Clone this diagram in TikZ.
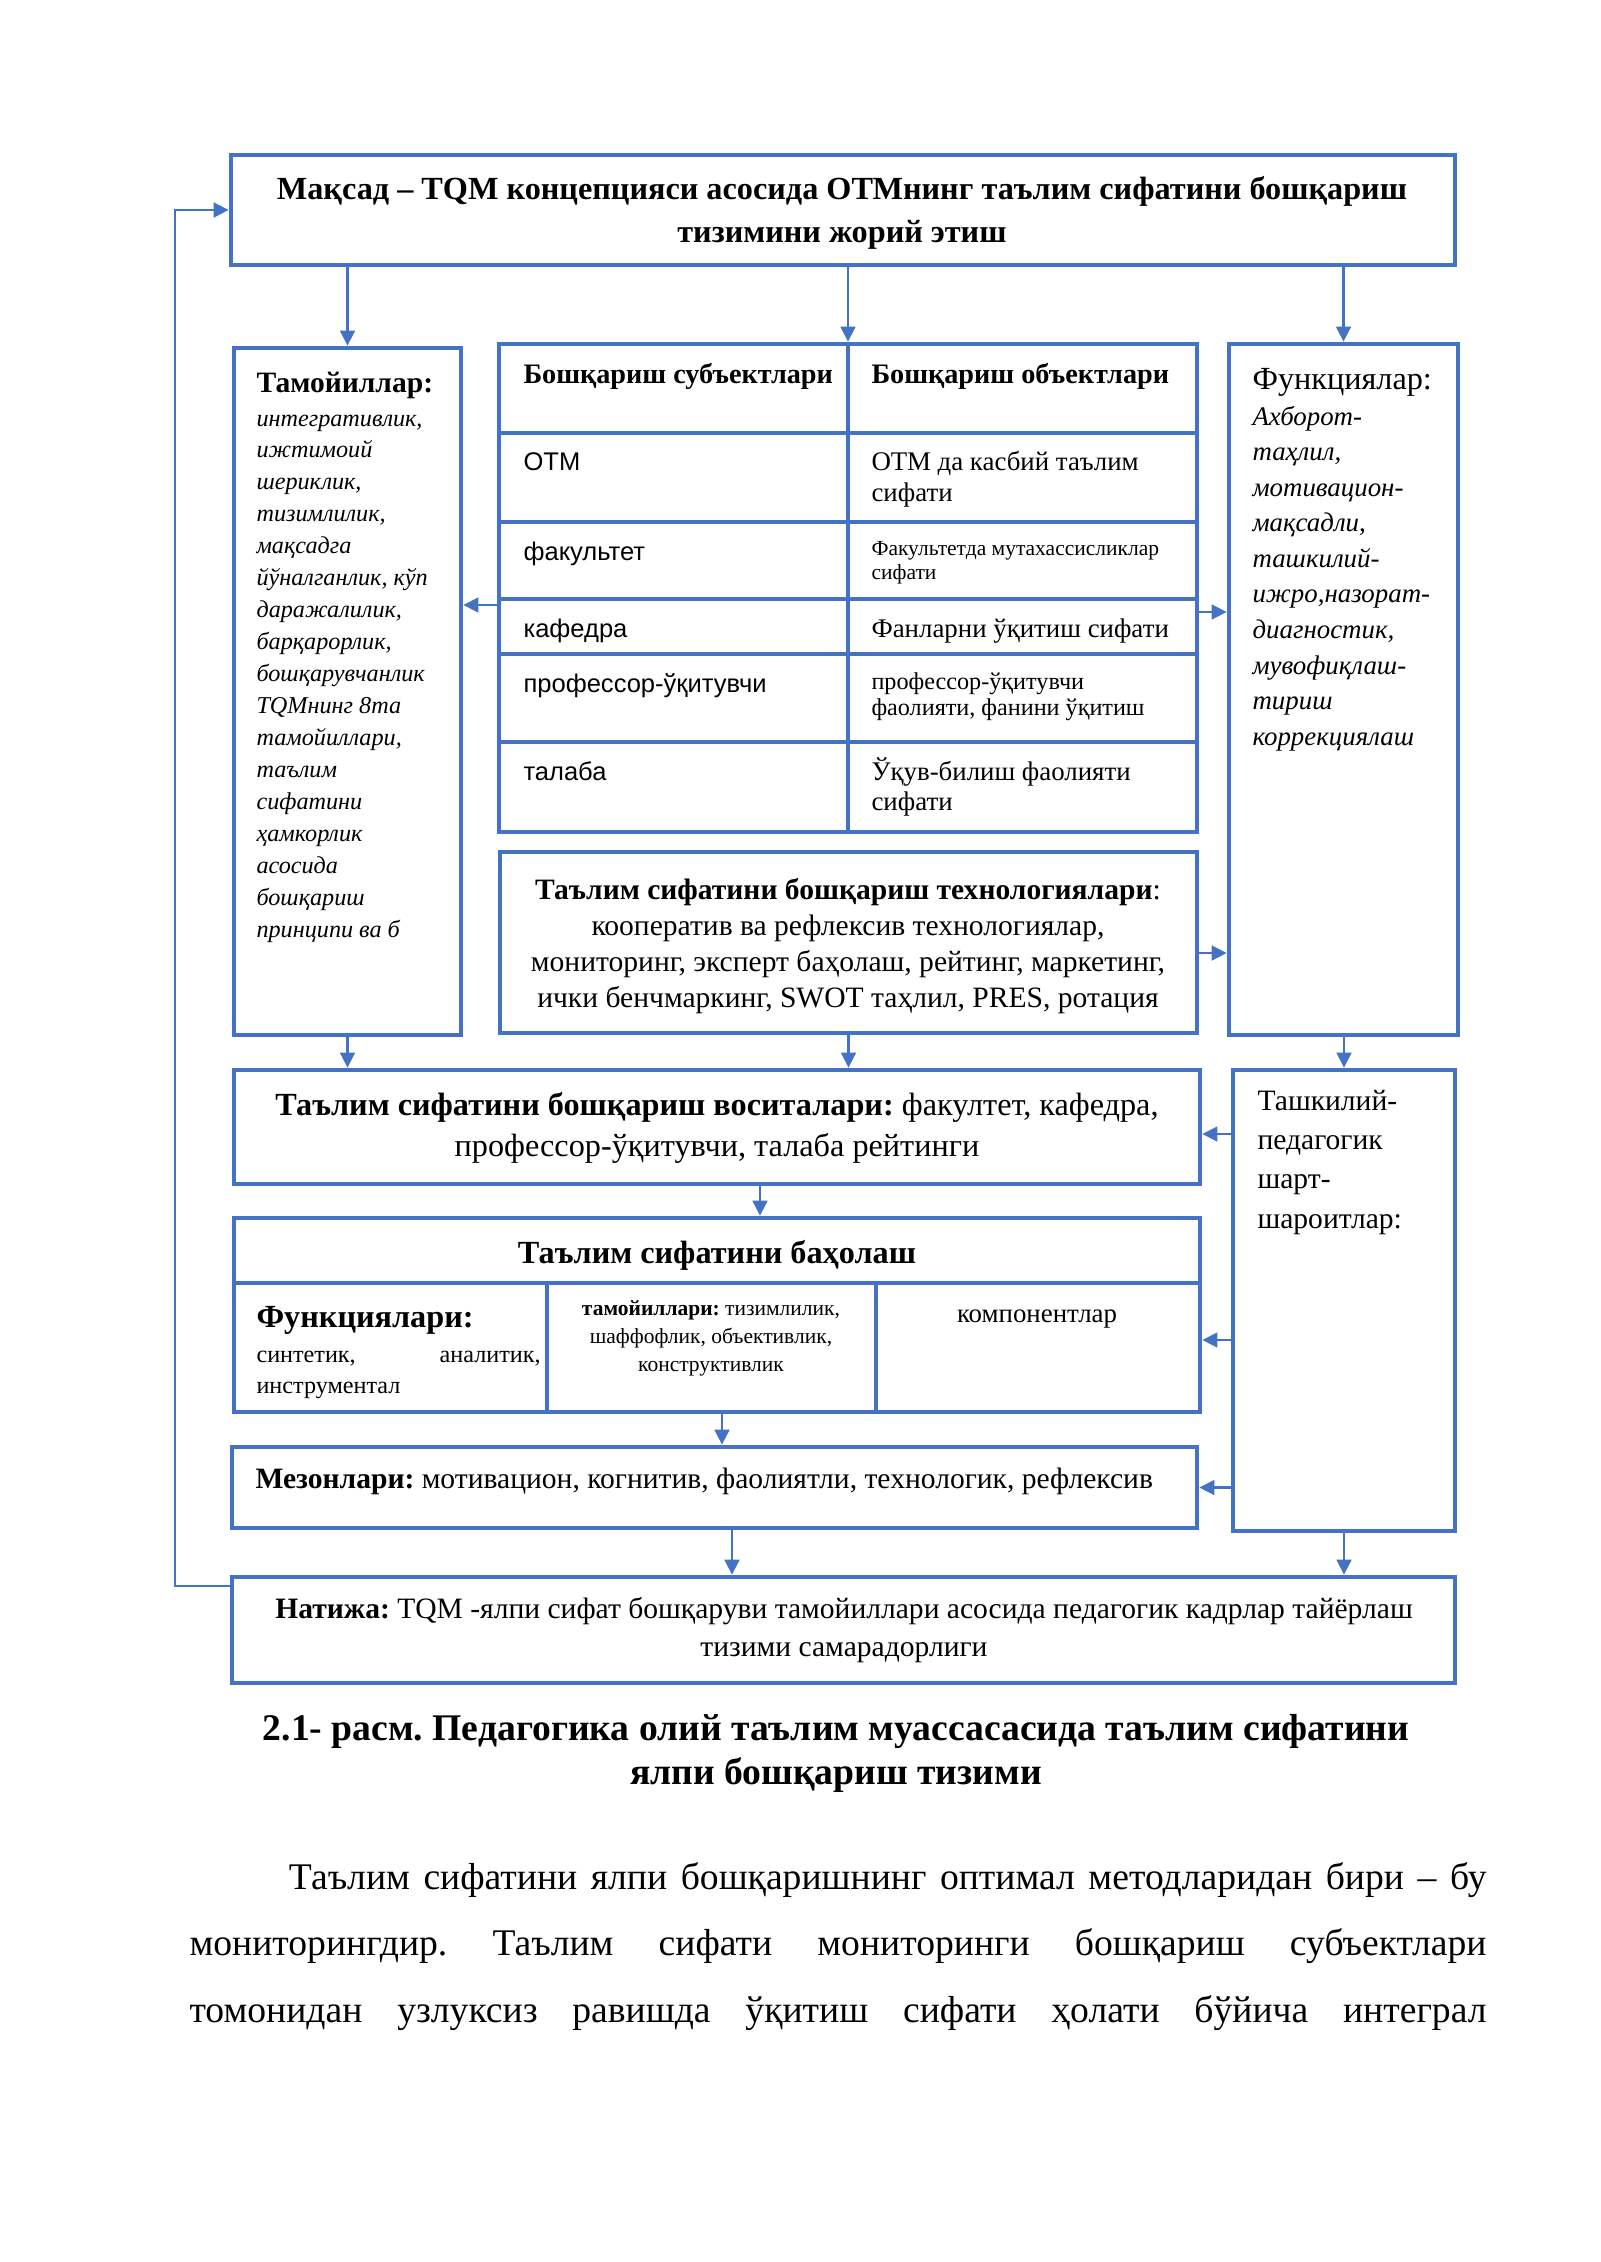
\documentclass[tikz,border=0pt]{standalone}
\usepackage{fontspec}
\setmainfont{Liberation Serif}
\newfontfamily\arialf{Liberation Sans}
\usetikzlibrary{arrows.meta}
\definecolor{bl}{RGB}{68,114,196}
\newcommand\fsz[2]{\fontsize{#1}{#2}\selectfont}
\newcommand\vt[3][\raggedright]{\vtop{\hsize=#2\relax\parindent=0pt\relax #1#3}}
\newcommand\bx[5]{\pgfmathsetmacro\bxw{(#4-#2)*0.372066}\pgfmathsetmacro\bxh{(#5-#3)*0.372066}%
  \node[box, minimum width=\bxw pt, minimum height=\bxh pt] (#1) at ({(#2+#4)/2},{(#3+#5)/2}) {};}
\tikzset{
  box/.style={draw=bl, line width=1.7pt, inner sep=0pt},
  boxl/.style={draw=bl, line width=1.7pt},
  arr/.style={draw=bl, line width=1.1pt, -{Triangle[length=5.6pt,width=5.4pt]}},
  tx/.style={inner sep=0pt, text=black}
}
\begin{document}
\frenchspacing
\begin{tikzpicture}[x=0.372066pt,y=-0.372066pt]
\fill[white] (0,0) rectangle (1600,2262);
\useasboundingbox (0,0) rectangle (1600,2262);
% boxes
\bx{maq}{231}{155}{1455}{265}
\bx{tam}{234}{348}{461}{1035}
\bx{tbl}{499}{344}{1197}{832}
\bx{fun}{1229}{344}{1458}{1035}
\bx{tech}{500}{852}{1197}{1033}
\bx{vos}{234}{1070}{1200}{1184}
\bx{tash}{1233}{1070}{1455}{1531}
\bx{bah}{234}{1218}{1200}{1412}
\bx{mez}{232}{1447}{1197}{1528}
\bx{nat}{232}{1577}{1455}{1683}
% table grid
\draw[boxl] (848,344) -- (848,832);
\foreach \yy in {433,522,599,654,742} \draw[boxl] (499,\yy) -- (1197,\yy);
% baholash grid
\draw[boxl] (234,1283) -- (1200,1283);
\draw[boxl] (547,1283) -- (547,1412);
\draw[boxl] (876,1283) -- (876,1412);
% texts
\node[tx,anchor=base] (t1) at (842,199) {\vt[\centering]{480pt}{\bfseries\fsz{12}{16}Мақсад – TQM концепцияси асосида ОТМнинг таълим сифатини бошқариш\\ тизимини жорий этиш}};
\node[tx,anchor=base west] (t2) at (256,392) {\bfseries\fsz{11}{13}Тамойиллар:};
\node[tx,anchor=base west] (t3) at (256,426) {\vt{200pt}{\itshape\fsz{9}{11.89}интегративлик,\\ижтимоий\\шериклик,\\тизимлилик,\\мақсадга\\йўналганлик, кўп\\даражалилик,\\барқарорлик,\\бошқарувчанлик\\TQMнинг 8та\\тамойиллари,\\таълим\\сифатини\\ҳамкорлик\\асосида\\бошқариш\\принципи ва б}};
\node[tx,anchor=base west] (t4) at (1252,389) {\fsz{12}{14}Функциялар:};
\node[tx,anchor=base west] (t5) at (1252,425) {\vt{200pt}{\itshape\fsz{10}{13.24}Ахборот-\\таҳлил,\\мотивацион-\\мақсадли,\\ташкилий-\\ижро,назорат-\\диагностик,\\мувофиқлаш-\\тириш\\коррекциялаш}};
% table texts
\node[tx,anchor=base west] (h1) at (523,383) {\bfseries\fsz{10.5}{12}Бошқариш субъектлари};
\node[tx,anchor=base west] (h2) at (871,383) {\bfseries\fsz{10.5}{12}Бошқариш объектлари};
\node[tx,anchor=base west] (s1) at (523,470) {\arialf\fsz{9.5}{11}ОТМ};
\node[tx,anchor=base west] (s2) at (523,560) {\arialf\fsz{9.5}{11}факультет};
\node[tx,anchor=base west] (s3) at (523,637) {\arialf\fsz{9.5}{11}кафедра};
\node[tx,anchor=base west] (s4) at (523,692) {\arialf\fsz{9.5}{11}профессор-ўқитувчи};
\node[tx,anchor=base west] (s5) at (523,780) {\arialf\fsz{9.5}{11}талаба};
\node[tx,anchor=base west] (o1) at (871,470) {\vt{120pt}{\fsz{10}{11.9}ОТМ да касбий таълим\\сифати}};
\node[tx,anchor=base west] (o2) at (871,555) {\vt{120pt}{\fsz{8}{9}Факультетда мутахассисликлар\\сифати}};
\node[tx,anchor=base west] (o3) at (871,637) {\fsz{10}{11.9}Фанларни ўқитиш сифати};
\node[tx,anchor=base west] (o4) at (871,689) {\vt{120pt}{\fsz{9}{10}профессор-ўқитувчи\\фаолияти, фанини ўқитиш}};
\node[tx,anchor=base west] (o5) at (871,780) {\vt{120pt}{\fsz{10}{11.5}Ўқув-билиш фаолияти\\сифати}};
% technologies
\node[tx,anchor=base] (t6) at (848,899) {\vt[\centering]{470pt}{\fsz{11}{13.4}\textbf{Таълим сифатини бошқариш технологиялари}:\\кооператив ва рефлексив технологиялар,\\мониторинг, эксперт баҳолаш, рейтинг, маркетинг,\\ички бенчмаркинг, SWOT таҳлил, PRES, ротация}};
% vositalari
\node[tx,anchor=base] (t7) at (717,1115) {\vt[\centering]{400pt}{\fsz{12}{15.6}\textbf{Таълим сифатини бошқариш воситалари:} факултет, кафедра,\\профессор-ўқитувчи, талаба рейтинги}};
% tashkiliy
\node[tx,anchor=base west] (t8) at (1257,1110) {\vt{200pt}{\fsz{11}{14.65}Ташкилий-\\педагогик\\шарт-\\шароитлар:}};
% baholash
\node[tx,anchor=base] (t9) at (717,1263) {\bfseries\fsz{12}{14}Таълим сифатини баҳолаш};
\node[tx,anchor=base west] (t10) at (256,1327) {\bfseries\fsz{12}{14}Функциялари:};
\node[tx,anchor=base west] (t11) at (256,1362) {\fsz{9}{11}\hbox to 105.7pt{синтетик,\hfill аналитик,}};
\node[tx,anchor=base west] (t12) at (256,1393) {\fsz{9}{11}инструментал};
\node[tx,anchor=base] (t13) at (711,1315) {\vt[\centering]{118pt}{\fsz{8}{10.6}\textbf{тамойиллари:} тизимлилик,\\шаффофлик, объективлик,\\конструктивлик}};
\node[tx,anchor=base] (t14) at (1037,1322) {\fsz{10}{12}компонентлар};
% mezonlari
\node[tx,anchor=base west] (t15) at (255,1488) {\fsz{11}{13}\textbf{Мезонлари:} мотивацион, когнитив, фаолиятли, технологик, рефлексив};
% natija
\node[tx,anchor=base] (t16) at (844,1618) {\vt[\centering]{470pt}{\fsz{11}{14.2}\textbf{Натижа:} TQM -ялпи сифат бошқаруви тамойиллари асосида педагогик кадрлар тайёрлаш\\тизими самарадорлиги}};
% caption
\node[tx,anchor=base] (cap) at (836,1740) {\vt[\centering]{500pt}{\bfseries\fsz{14}{16.4}2.1- расм. Педагогика олий таълим муассасасида таълим сифатини\\ялпи бошқариш тизими}};
% paragraph
\node[tx,anchor=base west] (par) at (189,1889) {\vtop{\fsz{14}{24.8}%
\hbox to 482.6pt{\hskip37pt Таълим сифатини ялпи бошқаришнинг оптимал методларидан бири – бу}
\hbox to 482.6pt{мониторингдир. Таълим сифати мониторинги бошқариш субъектлари}
\hbox to 482.6pt{томонидан узлуксиз равишда ўқитиш сифати ҳолати бўйича интеграл}}};
% arrows
\draw[arr] (maq.south -| tam.north) -- (tam.north);
\draw[arr] (maq.south -| tbl.north) -- (tbl.north);
\draw[arr] (maq.south -| fun.north) -- (fun.north);
\coordinate (yA) at (0,605);
\draw[arr] (tbl.west |- yA) -- (tam.east |- yA);
\coordinate (yB) at (0,612);
\draw[arr] (tbl.east |- yB) -- (fun.west |- yB);
\coordinate (yC) at (0,953);
\draw[arr] (tech.east |- yC) -- (fun.west |- yC);
\draw[arr] (tam.south) -- (tam.south |- vos.north);
\draw[arr] (tech.south) -- (tech.south |- vos.north);
\draw[arr] (fun.south -| tash.north) -- (tash.north);
\coordinate (yV) at (0,1134);
\draw[arr] (tash.west |- yV) -- (vos.east |- yV);
\coordinate (xD) at (760,0);
\draw[arr] (vos.south -| xD) -- (bah.north -| xD);
\coordinate (yE) at (0,1340);
\draw[arr] (tash.west |- yE) -- (bah.east |- yE);
\coordinate (xF) at (722,0);
\draw[arr] (bah.south -| xF) -- (mez.north -| xF);
\draw[arr] (tash.west |- mez.east) -- (mez.east);
\coordinate (xG) at (732,0);
\draw[arr] (mez.south -| xG) -- (nat.north -| xG);
\draw[arr] (tash.south) -- (tash.south |- nat.north);
\coordinate (fbx) at (175,0);
\coordinate (fby) at (0,1586);
\draw[arr] (nat.west |- fby) -- (fbx |- fby) -- (fbx |- maq.west) -- (maq.west);
\end{tikzpicture}
\end{document}
